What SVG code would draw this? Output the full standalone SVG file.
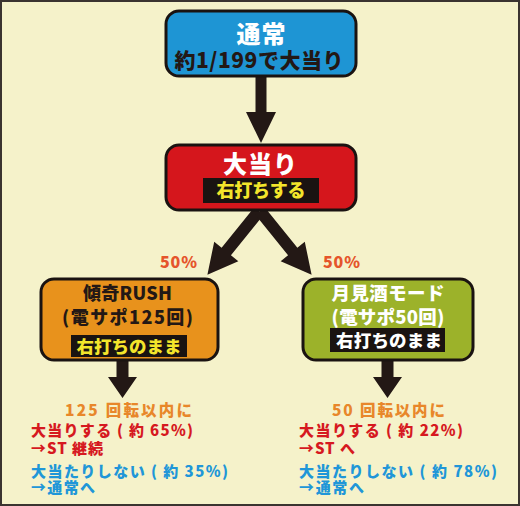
<svg xmlns="http://www.w3.org/2000/svg" width="520" height="506" viewBox="0 0 520 506">
<style>
text{font-family:"Noto Sans CJK JP","Noto Sans",sans-serif;font-weight:900}
.box{stroke:#1a1311;stroke-width:3}
.lbl{fill:#1a1311}
.c{text-anchor:middle}
.dk{fill:#231815}
.wh{fill:#ffffff}
.yl{fill:#f3e52b}
.pct{fill:#e5552b;font-size:16px}
.or{fill:#e8872a;font-size:15.5px}
.rd{fill:#d6191f;font-size:15px}
.bl{fill:#2096d8;font-size:15px}
.arr{fill:#231815}
</style>
<rect x="1" y="1" width="518" height="504" fill="#f5f2ca" stroke="#3a3430" stroke-width="2"/>
<g id="connectors">
<path class="arr" d="M255.5,76 H266.5 V112 H276 L261,143 L246,112 H255.5 Z"/>
<path class="arr" transform="translate(259,211) rotate(39)" d="M-6,0 H6 V52 H15.5 L0,82 L-15.5,52 H-6 Z"/>
<path class="arr" transform="translate(260,211) rotate(-39)" d="M-6,0 H6 V52 H15.5 L0,82 L-15.5,52 H-6 Z"/>
<path class="arr" d="M116.5,359 H128.5 V377 H137 L122.5,398 L108,377 H116.5 Z"/>
<path class="arr" d="M381.5,359 H393.5 V377 H402 L387.5,398 L373,377 H381.5 Z"/>
</g>
<g id="normal">
<rect class="box" x="166" y="11" width="190" height="65" rx="13" fill="#1e95d4"/>
<text class="c wh" x="261" y="43" font-size="24" textLength="49">通常</text>
<text class="c dk" x="259" y="68" font-size="21" textLength="169">約1/199で大当り</text>
</g>
<g id="jackpot">
<rect class="box" x="166" y="145" width="190" height="65" rx="13" fill="#d5161c"/>
<text class="c wh" x="260" y="173" font-size="24" textLength="74">大当り</text>
<rect class="lbl" x="203" y="178" width="116" height="25"/>
<text class="c yl" x="261" y="197" font-size="18" textLength="89">右打ちする</text>
</g>
<g id="pct-left"><text class="pct" x="160" y="268" textLength="37">50%</text></g>
<g id="pct-right"><text class="pct" x="323" y="268" textLength="37">50%</text></g>
<g id="rush">
<rect class="box" x="41" y="279" width="177" height="81" rx="13" fill="#e8921c"/>
<text class="c dk" x="127.5" y="300" font-size="18" textLength="89">傾奇RUSH</text>
<text class="c dk" x="127.5" y="324" font-size="18" textLength="131">(電サポ125回)</text>
<rect class="lbl" x="71" y="335" width="116" height="22"/>
<text class="c yl" x="129" y="352.5" font-size="17.5" textLength="105">右打ちのまま</text>
</g>
<g id="tsukimi">
<rect class="box" x="303" y="279" width="170" height="81" rx="13" fill="#9cb22a"/>
<text class="c wh" x="388" y="300" font-size="18.5" textLength="113">月見酒モード</text>
<text class="c wh" x="388" y="324" font-size="18.5" textLength="113">(電サポ50回)</text>
<rect class="lbl" x="330" y="328" width="115" height="24"/>
<text class="c wh" x="389" y="346.5" font-size="17.5" textLength="106">右打ちのまま</text>
</g>
<g id="result-left">
<text class="or" x="65" y="416" textLength="127">125 回転以内に</text>
<text class="rd" x="31" y="436" textLength="162">大当りする ( 約 65%)</text>
<text class="rd" x="31" y="454" textLength="72">→ST 継続</text>
<text class="bl" x="31" y="477" textLength="197">大当たりしない ( 約 35%)</text>
<text class="bl" x="31" y="493" textLength="64">→通常へ</text>
</g>
<g id="result-right">
<text class="or" x="332" y="416" textLength="113">50 回転以内に</text>
<text class="rd" x="299" y="436" textLength="164">大当りする ( 約 22%)</text>
<text class="rd" x="299" y="454" textLength="56">→ST へ</text>
<text class="bl" x="299" y="477" textLength="198">大当たりしない ( 約 78%)</text>
<text class="bl" x="299" y="493" textLength="65">→通常へ</text>
</g>
</svg>
